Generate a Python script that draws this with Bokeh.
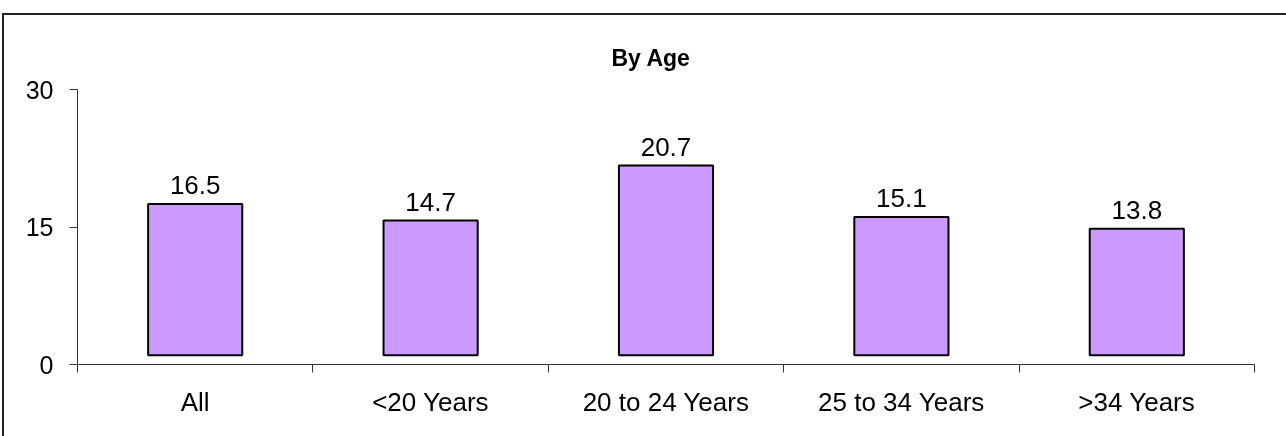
from bokeh.plotting import figure
from bokeh.models import (ColumnDataSource, FixedTicker, Range1d, LabelSet, LinearAxis)
from bokeh.core.properties import value
from bokeh.embed import file_html
from bokeh.resources import INLINE

categories = ["All", "<20 Years", "20 to 24 Years", "25 to 34 Years", ">34 Years"]
values = [16.5, 14.7, 20.7, 15.1, 13.8]
y_ticks = [0, 15, 30]
title_text = "By Age"
bar_base = 1.0  # bars in the original float slightly above the axis

FONT = "Liberation Sans"

xs = [i + 0.5 for i in range(len(categories))]
src = ColumnDataSource(dict(
    x=xs,
    bottom=[bar_base] * len(values),
    top=[v + bar_base for v in values],
    label=[f"{v:.1f}" for v in values],
))

p = figure(width=1290, height=425, output_backend="svg", toolbar_location=None,
           x_range=Range1d(0, len(categories)), y_range=Range1d(0, 30),
           min_border_left=73, min_border_right=40, min_border_top=74, min_border_bottom=76,
           x_axis_type=None, y_axis_type=None)
# chart box edge (only its top and left edges are visible in the original)
p.styles = {"position": "fixed", "left": "4px", "top": "15px",
            "box-shadow": "-2px -2px 0 0 #222222"}
p.outline_line_color = None
p.background_fill_color = "white"
p.border_fill_color = "white"
p.xgrid.visible = False
p.ygrid.visible = False

p.title.text = title_text
p.title.align = "left"
p.title.offset = 534
p.title.standoff = 37
p.title.text_font = FONT
p.title.text_font_size = "23px"
p.title.text_font_style = "bold"
p.title.text_color = "black"

# axes
xaxis = LinearAxis(ticker=FixedTicker(ticks=xs, minor_ticks=list(range(len(categories) + 1))))
xaxis.major_label_overrides = {x: c for x, c in zip(xs, categories)}
xaxis.major_tick_out = 0
xaxis.major_tick_in = 0
xaxis.minor_tick_out = 8
xaxis.minor_tick_in = 0
xaxis.major_label_standoff = 14
xaxis.axis_line_color = "#333333"
xaxis.minor_tick_line_color = "#333333"
xaxis.major_label_text_font = FONT
xaxis.major_label_text_font_size = "26px"
xaxis.major_label_text_color = "black"
p.add_layout(xaxis, "below")

yaxis = LinearAxis(ticker=FixedTicker(ticks=y_ticks, minor_ticks=[]))
yaxis.major_tick_out = 8
yaxis.major_tick_in = 0
yaxis.minor_tick_out = 0
yaxis.minor_tick_in = 0
yaxis.major_label_standoff = 16
yaxis.axis_line_color = "#333333"
yaxis.major_tick_line_color = "#333333"
yaxis.major_label_text_font = FONT
yaxis.major_label_text_font_size = "25px"
yaxis.major_label_text_color = "black"
p.add_layout(yaxis, "left")

# bars
p.vbar(x="x", bottom="bottom", top="top", width=0.40, source=src,
       fill_color="#CC99FF", line_color="black", line_width=2)

# value labels
p.add_layout(LabelSet(x="x", y="top", text="label", source=src, text_align="center",
                      text_baseline="alphabetic", y_offset=10,
                      text_font=value(FONT), text_font_size=value("26px"),
                      text_color="black"))

open("out.html", "w").write(file_html(p, INLINE))
